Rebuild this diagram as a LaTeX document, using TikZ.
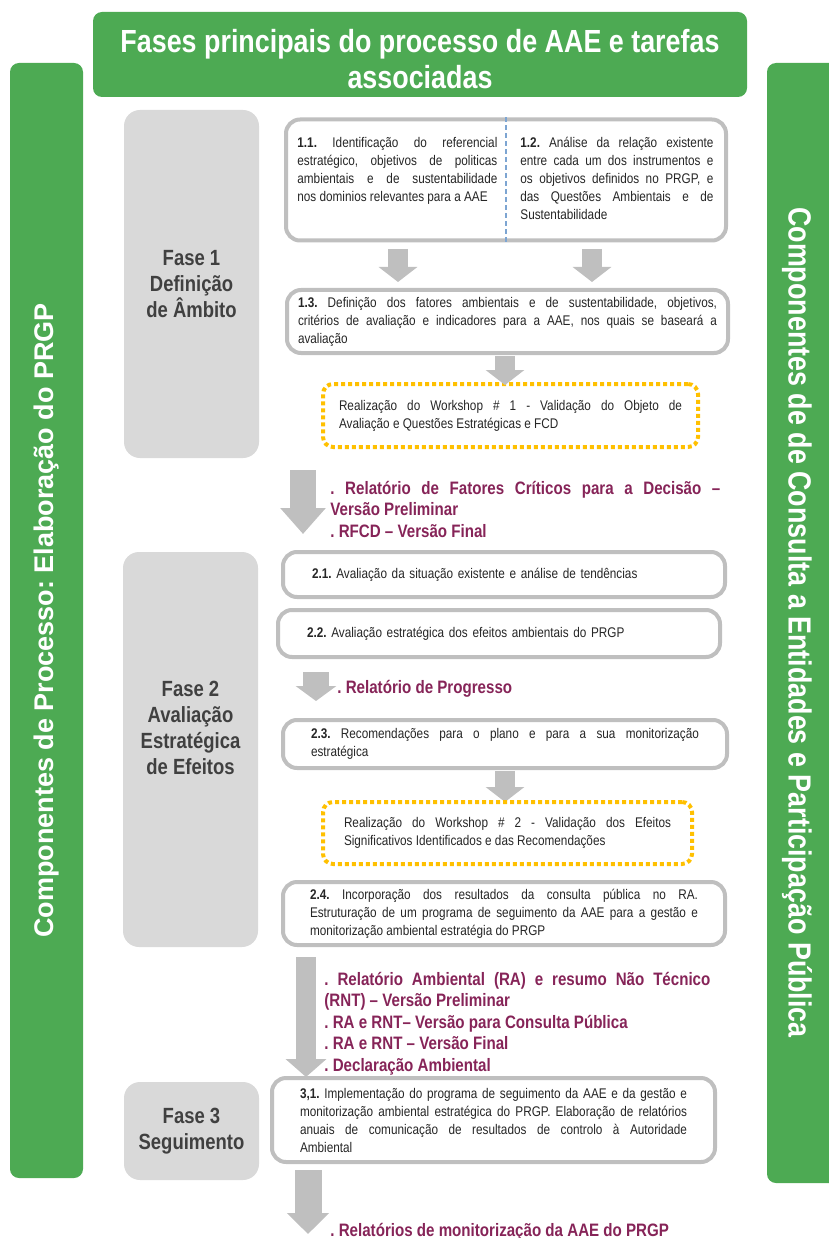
\documentclass[tikz,border=0pt]{standalone}
\usepackage{fontspec}
\setmainfont{Liberation Sans}[FakeStretch=0.84]
\newfontfamily\largo{Liberation Sans}
\usetikzlibrary{arrows.meta}

\definecolor{verde}{RGB}{77,170,83}
\definecolor{cinzafase}{RGB}{217,217,217}
\definecolor{borda}{RGB}{191,191,191}
\definecolor{cinzaseta}{RGB}{191,191,191}
\definecolor{amarelo}{RGB}{255,192,0}
\definecolor{roxo}{RGB}{134,36,88}
\definecolor{azul}{RGB}{125,165,210}
\definecolor{texto}{RGB}{38,38,38}
\definecolor{textofase}{RGB}{64,64,64}

\hyphenpenalty=10000
\exhyphenpenalty=10000
\frenchspacing

\begin{document}
\begin{tikzpicture}[x=1pt, y=-1pt, thick,
    barra/.style={fill=verde, rounded corners=9pt, text=white},
    fase/.style={fill=cinzafase, rounded corners=16pt, minimum width=135pt, text=textofase,
      font=\bfseries\fontsize{22}{26}\selectfont, align=center},
    tarefa/.style={draw=borda, line width=4pt, rounded corners=14pt, fill=white, text=texto,
      font=\fontsize{14}{18}\selectfont, align=justify, inner sep=0pt},
    oficina/.style={draw=amarelo, line width=4pt, dash pattern=on 4pt off 3pt, rounded corners=10pt,
      text=texto, font=\fontsize{14}{18}\selectfont, align=justify, inner sep=0pt},
    entrega/.style={text=roxo, font=\bfseries\fontsize{18}{21.5}\selectfont, align=justify, inner sep=0pt},
    setap/.style={draw=cinzaseta, line width=20pt, -{Triangle[width=38pt,length=15pt]}},
    setag/.style={draw=cinzaseta, line width=26pt, -{Triangle[width=44pt,length=26pt]}}]
  \useasboundingbox (0,0) rectangle (828,1238);

  % barras laterais e titulo
  \node[barra, minimum width=654pt, minimum height=85pt] (titulo) at (420,54.5) {};
  \node[text=white, align=center, font=\bfseries\fontsize{32}{36}\selectfont] (titulotxt)
    at ([yshift=-5pt]titulo.center) {Fases principais do processo de AAE e tarefas\\associadas};
  \node[barra, rotate=90, minimum width=1115pt, minimum height=73pt,
    font=\largo\bfseries\fontsize{27}{30}\selectfont] (processo) at (46.5,620.5)
    {Componentes de Processo: Elaboração do PRGP};
  \node[barra, minimum width=71pt, minimum height=1120pt] (consulta) at (802.5,623) {};
  \node[rotate=-90, text=white, font=\bfseries\fontsize{32}{36}\selectfont] (consultatxt)
    at (797,622.5) {Componentes de de Consulta a Entidades e Participação Pública};

  % fases
  \node[fase, minimum height=348pt] (fase1) at (191.5,284) {Fase 1\\Definição\\de Âmbito};
  \node[fase, minimum height=395pt] (fase2) at (190.5,749.5) {};
  \node[text=textofase, align=center, font=\bfseries\fontsize{22}{26}\selectfont] (fase2txt)
    at ([yshift=22pt]fase2.center) {Fase 2\\Avaliação\\Estratégica\\de Efeitos};
  \node[fase, minimum height=98pt] (fase3) at (191.5,1131) {Fase 3\\Seguimento};

  % fase 1
  \node[tarefa, minimum width=440pt, minimum height=121pt] (t1) at (506,180) {};
  \draw[azul, line width=1.5pt, dash pattern=on 5pt off 3pt] (t1.north) -- (t1.south);
  \node[text=texto, font=\fontsize{14}{18}\selectfont, align=justify, text width=200pt,
    inner sep=0pt, anchor=north west] (t11) at (297,137)
    {\textbf{1.1.} Identificação do referencial\linebreak estratégico, objetivos de politicas\linebreak
     ambientais e de sustentabilidade\linebreak nos dominios relevantes para a AAE};
  \node[text=texto, font=\fontsize{14}{18}\selectfont, align=justify, text width=193pt,
    inner sep=0pt, anchor=north west] (t12) at (520,137)
    {\textbf{1.2.} Análise da relação existente\linebreak entre cada um dos instrumentos e\linebreak
     os objetivos definidos no PRGP, e\linebreak das Questões Ambientais e de\linebreak Sustentabilidade};
  \node[tarefa, minimum width=441pt, minimum height=63pt, text width=419pt] (t13) at (507.5,321.5)
    {\textbf{1.3.} Definição dos fatores ambientais e de sustentabilidade, objetivos,\linebreak
     critérios de avaliação e indicadores para a AAE, nos quais se baseará a\linebreak avaliação};
  \node[oficina, minimum width=375pt, minimum height=63pt, text width=343pt] (ws1) at (510.5,415.5)
    {Realização do Workshop \# 1 - Validação do Objeto de\linebreak
     Avaliação e Questões Estratégicas e FCD};

  \coordinate (a1i) at (398,249); \coordinate (a1f) at (398,282);
  \coordinate (a2i) at (592,249); \coordinate (a2f) at (592,282);
  \coordinate (a3i) at (505,356); \coordinate (a3f) at (505,385);
  \draw[setap] (a1i) -- (a1f);
  \draw[setap] (a2i) -- (a2f);
  \draw[setap] (a3i) -- (a3f);

  \coordinate (a4i) at (303,470); \coordinate (a4f) at (303,534);
  \draw[setag] (a4i) -- (a4f);
  \node[entrega, text width=390pt, anchor=north west] (entrega1) at (330,480.5)
    {. Relatório de Fatores Críticos para a Decisão –\linebreak Versão Preliminar\newline
     . RFCD – Versão Final};

  % fase 2
  \node[tarefa, minimum width=442pt, minimum height=45pt, text width=384pt, align=left] (t21)
    at (504,574.5) {\textbf{2.1.} Avaliação da situação existente e análise de tendências};
  \node[tarefa, minimum width=442pt, minimum height=47pt, text width=384pt, align=left] (t22)
    at (499,633.5) {\textbf{2.2.} Avaliação estratégica dos efeitos ambientais do PRGP};
  \coordinate (a5i) at (316,672); \coordinate (a5f) at (316,701);
  \draw[cinzaseta, line width=26pt, -{Triangle[width=40pt,length=15pt]}] (a5i) -- (a5f);
  \node[entrega, anchor=base west] (entrega2) at (337,693) {. Relatório de Progresso};
  \node[tarefa, minimum width=444pt, minimum height=48pt, text width=388pt] (t23) at (505,744)
    {\textbf{2.3.} Recomendações para o plano e para a sua monitorização\linebreak estratégica};
  \coordinate (a6i) at (505,771); \coordinate (a6f) at (505,802);
  \draw[setap] (a6i) -- (a6f);
  \node[oficina, minimum width=369pt, minimum height=62pt, text width=327pt] (ws2) at (507.5,833)
    {Realização do Workshop \# 2 - Validação dos Efeitos\linebreak
     Significativos Identificados e das Recomendações};
  \node[tarefa, minimum width=442pt, minimum height=63pt, text width=388pt] (t24) at (504,913.5)
    {\textbf{2.4.} Incorporação dos resultados da consulta pública no RA.\linebreak
     Estruturação de um programa de seguimento da AAE para a gestão e\linebreak
     monitorização ambiental estratégia do PRGP};

  \coordinate (a7i) at (306,957); \coordinate (a7f) at (306,1077);
  \draw[cinzaseta, line width=20pt, -{Triangle[width=40pt,length=18pt]}] (a7i) -- (a7f);
  \node[entrega, text width=386pt, anchor=north west] (entrega3) at (324,971.5)
    {. Relatório Ambiental (RA) e resumo Não Técnico\linebreak (RNT) – Versão Preliminar\newline
     . RA e RNT– Versão para Consulta Pública\newline
     . RA e RNT – Versão Final\newline
     . Declaração Ambiental};

  % fase 3
  \node[tarefa, minimum width=443pt, minimum height=84pt, text width=387pt] (t31) at (493.5,1120)
    {\textbf{3,1.} Implementação do programa de seguimento da AAE e da gestão e\linebreak
     monitorização ambiental estratégica do PRGP. Elaboração de relatórios\linebreak
     anuais de comunicação de resultados de controlo à Autoridade\linebreak Ambiental};
  \coordinate (a8i) at (308,1170); \coordinate (a8f) at (308,1234);
  \draw[cinzaseta, line width=27pt, -{Triangle[width=41pt,length=21pt]}] (a8i) -- (a8f);
  \node[entrega, anchor=base west] (entrega4) at (330,1236)
    {. Relatórios de monitorização da AAE do PRGP};
\end{tikzpicture}
\end{document}
